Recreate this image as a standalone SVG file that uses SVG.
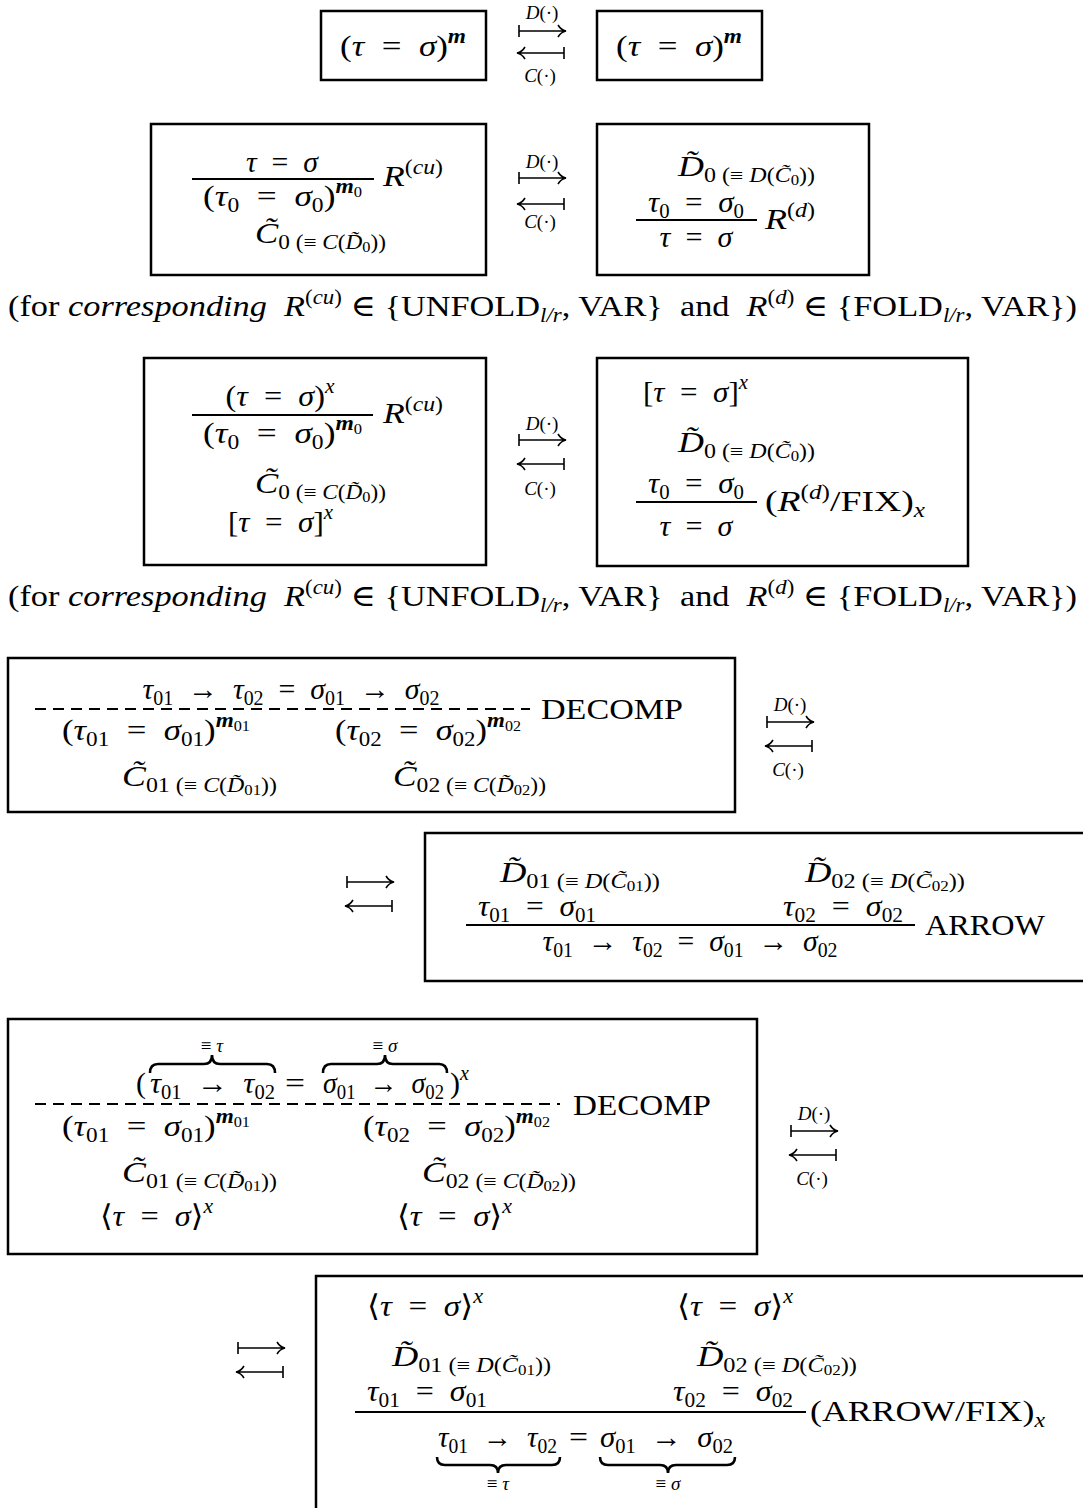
<svg xmlns="http://www.w3.org/2000/svg" xmlns:xlink="http://www.w3.org/1999/xlink" width="1083" height="1508" viewBox="0 0 1083 1508">
<style>
.t{font-family:"Liberation Serif","DejaVu Serif",serif;font-size:30px;fill:#000}
.i{font-style:italic}
.b{font-weight:bold}
.sup{font-size:20px}
.sb{font-size:20px}
.ssb{font-size:14px}
.lb{font-family:"Liberation Serif","DejaVu Serif",serif;font-size:19px;fill:#000}
.box{fill:none;stroke:#000;stroke-width:2.5}
.bar{stroke:#000;stroke-width:2}
.dash{stroke:#000;stroke-width:2;stroke-dasharray:11 7}
.arr{fill:none;stroke:#000;stroke-width:1.6}
.brace{fill:none;stroke:#000;stroke-width:2.6}
</style>
<defs>
<path id="mt" class="arr" d="M0,-6 V6 M0,0 H46 M39,-6 Q42,-1 47,0 Q42,1 39,6"/>
<path id="lmt" class="arr" d="M47,-6 V6 M47,0 H1 M8,-6 Q5,-1 0,0 Q5,1 8,6"/>
</defs>
<rect width="1083" height="1508" fill="#fff"/>

<g id="connectors">
<use xlink:href="#mt" x="519" y="31"/>
<use xlink:href="#lmt" x="517" y="53"/>
<text class="lb" x="542" y="19" text-anchor="middle"><tspan class="i">D</tspan>(·)</text>
<text class="lb" x="540" y="82" text-anchor="middle"><tspan class="i">C</tspan>(·)</text>

<use xlink:href="#mt" x="519" y="178"/>
<use xlink:href="#lmt" x="517" y="204"/>
<text class="lb" x="542" y="168" text-anchor="middle"><tspan class="i">D</tspan>(·)</text>
<text class="lb" x="540" y="228" text-anchor="middle"><tspan class="i">C</tspan>(·)</text>

<use xlink:href="#mt" x="519" y="440"/>
<use xlink:href="#lmt" x="517" y="464"/>
<text class="lb" x="542" y="430" text-anchor="middle"><tspan class="i">D</tspan>(·)</text>
<text class="lb" x="540" y="495" text-anchor="middle"><tspan class="i">C</tspan>(·)</text>

<use xlink:href="#mt" x="767" y="722"/>
<use xlink:href="#lmt" x="765" y="746"/>
<text class="lb" x="790" y="711" text-anchor="middle"><tspan class="i">D</tspan>(·)</text>
<text class="lb" x="788" y="776" text-anchor="middle"><tspan class="i">C</tspan>(·)</text>

<use xlink:href="#mt" x="347" y="882"/>
<use xlink:href="#lmt" x="345" y="906"/>

<use xlink:href="#mt" x="791" y="1131"/>
<use xlink:href="#lmt" x="789" y="1155"/>
<text class="lb" x="814" y="1120" text-anchor="middle"><tspan class="i">D</tspan>(·)</text>
<text class="lb" x="812" y="1185" text-anchor="middle"><tspan class="i">C</tspan>(·)</text>

<use xlink:href="#mt" x="238" y="1348"/>
<use xlink:href="#lmt" x="236" y="1372"/>
</g>

<!-- Row 1 -->
<g id="n1a">
<rect class="box" x="321" y="11" width="165" height="69"/>
<text class="t" x="340" y="56" textLength="126" lengthAdjust="spacingAndGlyphs">(<tspan class="i">τ</tspan>&#8194;=&#8194;<tspan class="i">σ</tspan>)<tspan class="sup i b" dy="-13">m</tspan></text>
</g>
<g id="n1b">
<rect class="box" x="597" y="11" width="165" height="69"/>
<text class="t" x="616" y="56" textLength="126" lengthAdjust="spacingAndGlyphs">(<tspan class="i">τ</tspan>&#8194;=&#8194;<tspan class="i">σ</tspan>)<tspan class="sup i b" dy="-13">m</tspan></text>
</g>

<!-- Row 2 -->
<g id="n2a">
<rect class="box" x="151" y="124" width="335" height="151"/>
<text class="t" x="282" y="172" text-anchor="middle" textLength="72" lengthAdjust="spacingAndGlyphs"><tspan class="i">τ</tspan>&#8194;=&#8194;<tspan class="i">σ</tspan></text>
<line class="bar" x1="192" y1="179" x2="374" y2="179"/>
<text class="t" x="203" y="206" textLength="159" lengthAdjust="spacingAndGlyphs">(<tspan class="i">τ</tspan><tspan class="sb" dy="6">0</tspan><tspan dy="-6">&#8194;=&#8194;</tspan><tspan class="i">σ</tspan><tspan class="sb" dy="6">0</tspan><tspan dy="-6">)</tspan><tspan class="sup i b" dy="-13">m</tspan><tspan class="ssb" dy="4">0</tspan></text>
<text class="t" x="383" y="186" textLength="60" lengthAdjust="spacingAndGlyphs"><tspan class="i">R</tspan><tspan class="sup" dy="-12">(</tspan><tspan class="sup i">cu</tspan><tspan class="sup">)</tspan></text>
<text class="t" x="255" y="243" textLength="131" lengthAdjust="spacingAndGlyphs"><tspan class="i">C̃</tspan><tspan class="sb" dy="6">0 (≡ </tspan><tspan class="sb i">C</tspan><tspan class="sb">(</tspan><tspan class="sb i">D̃</tspan><tspan class="ssb" dy="3">0</tspan><tspan class="sb" dy="-3">))</tspan></text>
</g>
<g id="n2b">
<rect class="box" x="597" y="124" width="272" height="151"/>
<text class="t" x="678" y="176" textLength="137" lengthAdjust="spacingAndGlyphs"><tspan class="i">D̃</tspan><tspan class="sb" dy="6">0 (≡ </tspan><tspan class="sb i">D</tspan><tspan class="sb">(</tspan><tspan class="sb i">C̃</tspan><tspan class="ssb" dy="3">0</tspan><tspan class="sb" dy="-3">))</tspan></text>
<text class="t" x="696" y="212" text-anchor="middle" textLength="96" lengthAdjust="spacingAndGlyphs"><tspan class="i">τ</tspan><tspan class="sb" dy="6">0</tspan><tspan dy="-6">&#8194;=&#8194;</tspan><tspan class="i">σ</tspan><tspan class="sb" dy="6">0</tspan></text>
<line class="bar" x1="636" y1="220" x2="757" y2="220"/>
<text class="t" x="696" y="247" text-anchor="middle" textLength="73" lengthAdjust="spacingAndGlyphs"><tspan class="i">τ</tspan>&#8194;=&#8194;<tspan class="i">σ</tspan></text>
<text class="t" x="765" y="229" textLength="50" lengthAdjust="spacingAndGlyphs"><tspan class="i">R</tspan><tspan class="sup" dy="-12">(</tspan><tspan class="sup i">d</tspan><tspan class="sup">)</tspan></text>
</g>

<g id="note1">
<text class="t" x="8" y="316" textLength="1069" lengthAdjust="spacingAndGlyphs">(for <tspan class="i">corresponding</tspan>&#8194;<tspan class="i">R</tspan><tspan class="sup" dy="-12">(</tspan><tspan class="sup i">cu</tspan><tspan class="sup">)</tspan><tspan dy="12"> ∈ {UNFOLD</tspan><tspan class="sb i" dy="6">l/r</tspan><tspan dy="-6">, VAR}&#8194;and&#8194;</tspan><tspan class="i">R</tspan><tspan class="sup" dy="-12">(</tspan><tspan class="sup i">d</tspan><tspan class="sup">)</tspan><tspan dy="12"> ∈ {FOLD</tspan><tspan class="sb i" dy="6">l/r</tspan><tspan dy="-6">, VAR})</tspan></text>
</g>

<!-- Row 3 -->
<g id="n3a">
<rect class="box" x="144" y="358" width="342" height="207"/>
<text class="t" x="280" y="406" text-anchor="middle" textLength="109" lengthAdjust="spacingAndGlyphs">(<tspan class="i">τ</tspan>&#8194;=&#8194;<tspan class="i">σ</tspan>)<tspan class="sup i" dy="-13">x</tspan></text>
<line class="bar" x1="192" y1="415" x2="373" y2="415"/>
<text class="t" x="203" y="443" textLength="159" lengthAdjust="spacingAndGlyphs">(<tspan class="i">τ</tspan><tspan class="sb" dy="6">0</tspan><tspan dy="-6">&#8194;=&#8194;</tspan><tspan class="i">σ</tspan><tspan class="sb" dy="6">0</tspan><tspan dy="-6">)</tspan><tspan class="sup i b" dy="-13">m</tspan><tspan class="ssb" dy="4">0</tspan></text>
<text class="t" x="383" y="423" textLength="60" lengthAdjust="spacingAndGlyphs"><tspan class="i">R</tspan><tspan class="sup" dy="-12">(</tspan><tspan class="sup i">cu</tspan><tspan class="sup">)</tspan></text>
<text class="t" x="255" y="493" textLength="131" lengthAdjust="spacingAndGlyphs"><tspan class="i">C̃</tspan><tspan class="sb" dy="6">0 (≡ </tspan><tspan class="sb i">C</tspan><tspan class="sb">(</tspan><tspan class="sb i">D̃</tspan><tspan class="ssb" dy="3">0</tspan><tspan class="sb" dy="-3">))</tspan></text>
<text class="t" x="228" y="532" textLength="105" lengthAdjust="spacingAndGlyphs">[<tspan class="i">τ</tspan>&#8194;=&#8194;<tspan class="i">σ</tspan>]<tspan class="sup i" dy="-13">x</tspan></text>
</g>
<g id="n3b">
<rect class="box" x="597" y="358" width="371" height="208"/>
<text class="t" x="643" y="402" textLength="105" lengthAdjust="spacingAndGlyphs">[<tspan class="i">τ</tspan>&#8194;=&#8194;<tspan class="i">σ</tspan>]<tspan class="sup i" dy="-13">x</tspan></text>
<text class="t" x="678" y="452" textLength="137" lengthAdjust="spacingAndGlyphs"><tspan class="i">D̃</tspan><tspan class="sb" dy="6">0 (≡ </tspan><tspan class="sb i">D</tspan><tspan class="sb">(</tspan><tspan class="sb i">C̃</tspan><tspan class="ssb" dy="3">0</tspan><tspan class="sb" dy="-3">))</tspan></text>
<text class="t" x="696" y="493" text-anchor="middle" textLength="96" lengthAdjust="spacingAndGlyphs"><tspan class="i">τ</tspan><tspan class="sb" dy="6">0</tspan><tspan dy="-6">&#8194;=&#8194;</tspan><tspan class="i">σ</tspan><tspan class="sb" dy="6">0</tspan></text>
<line class="bar" x1="636" y1="502" x2="757" y2="502"/>
<text class="t" x="696" y="536" text-anchor="middle" textLength="73" lengthAdjust="spacingAndGlyphs"><tspan class="i">τ</tspan>&#8194;=&#8194;<tspan class="i">σ</tspan></text>
<text class="t" x="765" y="511" textLength="160" lengthAdjust="spacingAndGlyphs">(<tspan class="i">R</tspan><tspan class="sup" dy="-12">(</tspan><tspan class="sup i">d</tspan><tspan class="sup">)</tspan><tspan dy="12">/FIX)</tspan><tspan class="sb i" dy="6">x</tspan></text>
</g>

<g id="note2">
<text class="t" x="8" y="606" textLength="1069" lengthAdjust="spacingAndGlyphs">(for <tspan class="i">corresponding</tspan>&#8194;<tspan class="i">R</tspan><tspan class="sup" dy="-12">(</tspan><tspan class="sup i">cu</tspan><tspan class="sup">)</tspan><tspan dy="12"> ∈ {UNFOLD</tspan><tspan class="sb i" dy="6">l/r</tspan><tspan dy="-6">, VAR}&#8194;and&#8194;</tspan><tspan class="i">R</tspan><tspan class="sup" dy="-12">(</tspan><tspan class="sup i">d</tspan><tspan class="sup">)</tspan><tspan dy="12"> ∈ {FOLD</tspan><tspan class="sb i" dy="6">l/r</tspan><tspan dy="-6">, VAR})</tspan></text>
</g>

<!-- Row 4 -->
<g id="n4a">
<rect class="box" x="8" y="658" width="727" height="154"/>
<text class="t" x="291" y="699" text-anchor="middle" textLength="297" lengthAdjust="spacingAndGlyphs"><tspan class="i">τ</tspan><tspan class="sb" dy="6">01</tspan><tspan dy="-6">&#8194;→&#8194;</tspan><tspan class="i">τ</tspan><tspan class="sb" dy="6">02</tspan><tspan dy="-6">&#8194;=&#8194;</tspan><tspan class="i">σ</tspan><tspan class="sb" dy="6">01</tspan><tspan dy="-6">&#8194;→&#8194;</tspan><tspan class="i">σ</tspan><tspan class="sb" dy="6">02</tspan></text>
<line class="dash" x1="35" y1="709" x2="530" y2="709"/>
<text class="t" x="541" y="719" textLength="142" lengthAdjust="spacingAndGlyphs">DECOMP</text>
<text class="t" x="62" y="740" textLength="188" lengthAdjust="spacingAndGlyphs">(<tspan class="i">τ</tspan><tspan class="sb" dy="6">01</tspan><tspan dy="-6">&#8194;=&#8194;</tspan><tspan class="i">σ</tspan><tspan class="sb" dy="6">01</tspan><tspan dy="-6">)</tspan><tspan class="sup i b" dy="-13">m</tspan><tspan class="ssb" dy="4">01</tspan></text>
<text class="t" x="335" y="740" textLength="186" lengthAdjust="spacingAndGlyphs">(<tspan class="i">τ</tspan><tspan class="sb" dy="6">02</tspan><tspan dy="-6">&#8194;=&#8194;</tspan><tspan class="i">σ</tspan><tspan class="sb" dy="6">02</tspan><tspan dy="-6">)</tspan><tspan class="sup i b" dy="-13">m</tspan><tspan class="ssb" dy="4">02</tspan></text>
<text class="t" x="122" y="786" textLength="155" lengthAdjust="spacingAndGlyphs"><tspan class="i">C̃</tspan><tspan class="sb" dy="6">01 (≡ </tspan><tspan class="sb i">C</tspan><tspan class="sb">(</tspan><tspan class="sb i">D̃</tspan><tspan class="ssb" dy="3">01</tspan><tspan class="sb" dy="-3">))</tspan></text>
<text class="t" x="393" y="786" textLength="153" lengthAdjust="spacingAndGlyphs"><tspan class="i">C̃</tspan><tspan class="sb" dy="6">02 (≡ </tspan><tspan class="sb i">C</tspan><tspan class="sb">(</tspan><tspan class="sb i">D̃</tspan><tspan class="ssb" dy="3">02</tspan><tspan class="sb" dy="-3">))</tspan></text>
</g>
<g id="n4b">
<path class="box" d="M1090,833 H425 V981 H1090"/>
<text class="t" x="500" y="882" textLength="160" lengthAdjust="spacingAndGlyphs"><tspan class="i">D̃</tspan><tspan class="sb" dy="6">01 (≡ </tspan><tspan class="sb i">D</tspan><tspan class="sb">(</tspan><tspan class="sb i">C̃</tspan><tspan class="ssb" dy="3">01</tspan><tspan class="sb" dy="-3">))</tspan></text>
<text class="t" x="805" y="882" textLength="160" lengthAdjust="spacingAndGlyphs"><tspan class="i">D̃</tspan><tspan class="sb" dy="6">02 (≡ </tspan><tspan class="sb i">D</tspan><tspan class="sb">(</tspan><tspan class="sb i">C̃</tspan><tspan class="ssb" dy="3">02</tspan><tspan class="sb" dy="-3">))</tspan></text>
<text class="t" x="478" y="916" textLength="118" lengthAdjust="spacingAndGlyphs"><tspan class="i">τ</tspan><tspan class="sb" dy="6">01</tspan><tspan dy="-6">&#8194;=&#8194;</tspan><tspan class="i">σ</tspan><tspan class="sb" dy="6">01</tspan></text>
<text class="t" x="783" y="916" textLength="120" lengthAdjust="spacingAndGlyphs"><tspan class="i">τ</tspan><tspan class="sb" dy="6">02</tspan><tspan dy="-6">&#8194;=&#8194;</tspan><tspan class="i">σ</tspan><tspan class="sb" dy="6">02</tspan></text>
<line class="bar" x1="466" y1="925" x2="915" y2="925"/>
<text class="t" x="925" y="935" textLength="120" lengthAdjust="spacingAndGlyphs">ARROW</text>
<text class="t" x="690" y="951" text-anchor="middle" textLength="295" lengthAdjust="spacingAndGlyphs"><tspan class="i">τ</tspan><tspan class="sb" dy="6">01</tspan><tspan dy="-6">&#8194;→&#8194;</tspan><tspan class="i">τ</tspan><tspan class="sb" dy="6">02</tspan><tspan dy="-6">&#8194;=&#8194;</tspan><tspan class="i">σ</tspan><tspan class="sb" dy="6">01</tspan><tspan dy="-6">&#8194;→&#8194;</tspan><tspan class="i">σ</tspan><tspan class="sb" dy="6">02</tspan></text>
</g>

<!-- Row 5 -->
<g id="n5a">
<rect class="box" x="8" y="1019" width="749" height="235"/>
<text class="lb" x="212" y="1052" text-anchor="middle">≡ <tspan class="i">τ</tspan></text>
<text class="lb" x="385" y="1052" text-anchor="middle">≡ <tspan class="i">σ</tspan></text>
<path class="brace" d="M150,1073 Q150,1064 158,1064 L204,1064 Q212,1064 212,1055 Q212,1064 220,1064 L267,1064 Q275,1064 275,1073"/>
<path class="brace" d="M323,1073 Q323,1064 331,1064 L377,1064 Q385,1064 385,1055 Q385,1064 393,1064 L439,1064 Q447,1064 447,1073"/>
<text class="t" x="136" y="1093">(</text>
<text class="t" x="150" y="1093" textLength="125" lengthAdjust="spacingAndGlyphs"><tspan class="i">τ</tspan><tspan class="sb" dy="6">01</tspan><tspan dy="-6">&#8194;→&#8194;</tspan><tspan class="i">τ</tspan><tspan class="sb" dy="6">02</tspan></text>
<text class="t" x="285" y="1093" textLength="20" lengthAdjust="spacingAndGlyphs">=</text>
<text class="t" x="323" y="1093" textLength="121" lengthAdjust="spacingAndGlyphs"><tspan class="i">σ</tspan><tspan class="sb" dy="6">01</tspan><tspan dy="-6">&#8194;→&#8194;</tspan><tspan class="i">σ</tspan><tspan class="sb" dy="6">02</tspan></text>
<text class="t" x="450" y="1093">)<tspan class="sup i" dy="-13">x</tspan></text>
<line class="dash" x1="35" y1="1104" x2="560" y2="1104"/>
<text class="t" x="573" y="1115" textLength="138" lengthAdjust="spacingAndGlyphs">DECOMP</text>
<text class="t" x="62" y="1136" textLength="188" lengthAdjust="spacingAndGlyphs">(<tspan class="i">τ</tspan><tspan class="sb" dy="6">01</tspan><tspan dy="-6">&#8194;=&#8194;</tspan><tspan class="i">σ</tspan><tspan class="sb" dy="6">01</tspan><tspan dy="-6">)</tspan><tspan class="sup i b" dy="-13">m</tspan><tspan class="ssb" dy="4">01</tspan></text>
<text class="t" x="363" y="1136" textLength="187" lengthAdjust="spacingAndGlyphs">(<tspan class="i">τ</tspan><tspan class="sb" dy="6">02</tspan><tspan dy="-6">&#8194;=&#8194;</tspan><tspan class="i">σ</tspan><tspan class="sb" dy="6">02</tspan><tspan dy="-6">)</tspan><tspan class="sup i b" dy="-13">m</tspan><tspan class="ssb" dy="4">02</tspan></text>
<text class="t" x="122" y="1182" textLength="155" lengthAdjust="spacingAndGlyphs"><tspan class="i">C̃</tspan><tspan class="sb" dy="6">01 (≡ </tspan><tspan class="sb i">C</tspan><tspan class="sb">(</tspan><tspan class="sb i">D̃</tspan><tspan class="ssb" dy="3">01</tspan><tspan class="sb" dy="-3">))</tspan></text>
<text class="t" x="422" y="1182" textLength="154" lengthAdjust="spacingAndGlyphs"><tspan class="i">C̃</tspan><tspan class="sb" dy="6">02 (≡ </tspan><tspan class="sb i">C</tspan><tspan class="sb">(</tspan><tspan class="sb i">D̃</tspan><tspan class="ssb" dy="3">02</tspan><tspan class="sb" dy="-3">))</tspan></text>
<text class="t" x="100" y="1226" textLength="113" lengthAdjust="spacingAndGlyphs">⟨<tspan class="i">τ</tspan>&#8194;=&#8194;<tspan class="i">σ</tspan>⟩<tspan class="sup i" dy="-13">x</tspan></text>
<text class="t" x="397" y="1226" textLength="115" lengthAdjust="spacingAndGlyphs">⟨<tspan class="i">τ</tspan>&#8194;=&#8194;<tspan class="i">σ</tspan>⟩<tspan class="sup i" dy="-13">x</tspan></text>
</g>
<g id="n5b">
<path class="box" d="M1090,1276 H316 V1510"/>
<text class="t" x="367" y="1316" textLength="116" lengthAdjust="spacingAndGlyphs">⟨<tspan class="i">τ</tspan>&#8194;=&#8194;<tspan class="i">σ</tspan>⟩<tspan class="sup i" dy="-13">x</tspan></text>
<text class="t" x="677" y="1316" textLength="116" lengthAdjust="spacingAndGlyphs">⟨<tspan class="i">τ</tspan>&#8194;=&#8194;<tspan class="i">σ</tspan>⟩<tspan class="sup i" dy="-13">x</tspan></text>
<text class="t" x="392" y="1366" textLength="159" lengthAdjust="spacingAndGlyphs"><tspan class="i">D̃</tspan><tspan class="sb" dy="6">01 (≡ </tspan><tspan class="sb i">D</tspan><tspan class="sb">(</tspan><tspan class="sb i">C̃</tspan><tspan class="ssb" dy="3">01</tspan><tspan class="sb" dy="-3">))</tspan></text>
<text class="t" x="697" y="1366" textLength="160" lengthAdjust="spacingAndGlyphs"><tspan class="i">D̃</tspan><tspan class="sb" dy="6">02 (≡ </tspan><tspan class="sb i">D</tspan><tspan class="sb">(</tspan><tspan class="sb i">C̃</tspan><tspan class="ssb" dy="3">02</tspan><tspan class="sb" dy="-3">))</tspan></text>
<text class="t" x="367" y="1401" textLength="120" lengthAdjust="spacingAndGlyphs"><tspan class="i">τ</tspan><tspan class="sb" dy="6">01</tspan><tspan dy="-6">&#8194;=&#8194;</tspan><tspan class="i">σ</tspan><tspan class="sb" dy="6">01</tspan></text>
<text class="t" x="673" y="1401" textLength="120" lengthAdjust="spacingAndGlyphs"><tspan class="i">τ</tspan><tspan class="sb" dy="6">02</tspan><tspan dy="-6">&#8194;=&#8194;</tspan><tspan class="i">σ</tspan><tspan class="sb" dy="6">02</tspan></text>
<line class="bar" x1="355" y1="1412" x2="806" y2="1412"/>
<text class="t" x="810" y="1421" textLength="235" lengthAdjust="spacingAndGlyphs">(ARROW/FIX)<tspan class="sb i" dy="6">x</tspan></text>
<text class="t" x="438" y="1447" textLength="119" lengthAdjust="spacingAndGlyphs"><tspan class="i">τ</tspan><tspan class="sb" dy="6">01</tspan><tspan dy="-6">&#8194;→&#8194;</tspan><tspan class="i">τ</tspan><tspan class="sb" dy="6">02</tspan></text>
<text class="t" x="569" y="1447" textLength="19" lengthAdjust="spacingAndGlyphs">=</text>
<text class="t" x="600" y="1447" textLength="133" lengthAdjust="spacingAndGlyphs"><tspan class="i">σ</tspan><tspan class="sb" dy="6">01</tspan><tspan dy="-6">&#8194;→&#8194;</tspan><tspan class="i">σ</tspan><tspan class="sb" dy="6">02</tspan></text>
<path class="brace" d="M437,1457 Q437,1465 445,1465 L490,1465 Q498,1465 498,1473 Q498,1465 506,1465 L552,1465 Q560,1465 560,1457"/>
<path class="brace" d="M600,1457 Q600,1465 608,1465 L660,1465 Q668,1465 668,1473 Q668,1465 676,1465 L727,1465 Q735,1465 735,1457"/>
<text class="lb" x="498" y="1490" text-anchor="middle">≡ <tspan class="i">τ</tspan></text>
<text class="lb" x="668" y="1490" text-anchor="middle">≡ <tspan class="i">σ</tspan></text>
</g>
</svg>
